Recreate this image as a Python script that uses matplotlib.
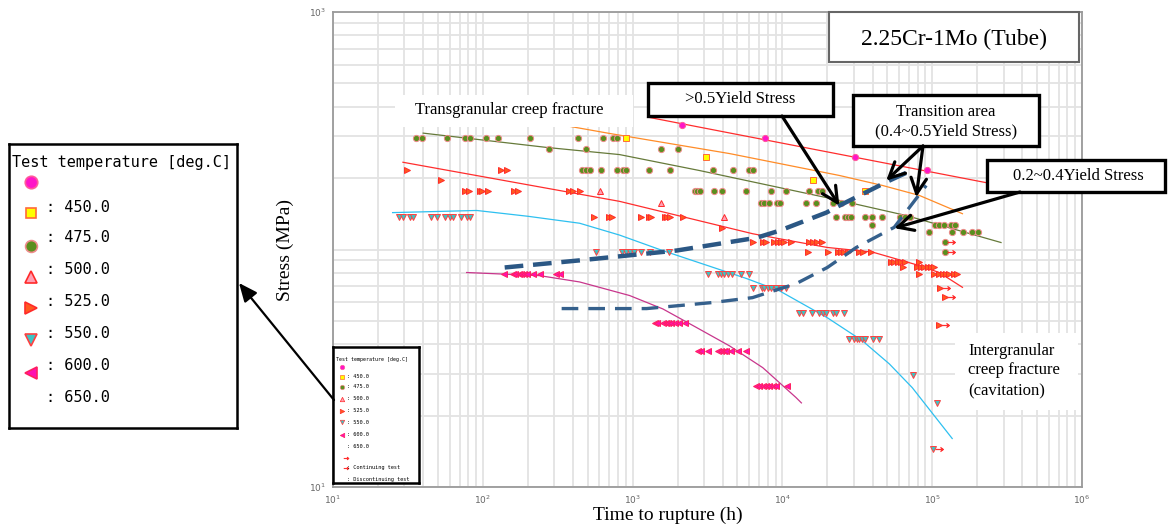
import matplotlib
matplotlib.use("Agg")
import matplotlib.pyplot as plt
from matplotlib.patches import Rectangle, ConnectionPatch
from matplotlib.path import Path

# ---------------- data (time to rupture [h], stress [MPa]) ----------------
t_c1 = [2140, 7600, 30500, 92700]
s_c1 = [333, 294, 245, 216]

t_450 = [898, 3100, 16100, 35600]
s_450 = [294, 245, 196, 177]

t_475 = [35.7, 39.2, 57.5, 75.9, 81.9, 105, 126, 206, 430, 631, 736, 782,
         277, 486, 1538, 2004,
         462, 491, 516, 618, 788, 861, 908, 1284, 1765, 3467, 4667, 5957, 6339,
         2590, 2685, 2798, 3520, 3963, 5728, 8405, 10590, 15140, 17190, 18280,
         7211, 7586, 8190, 9162, 9700, 14390, 16790, 21880, 24730, 29290,
         22800, 26300, 27230, 28710, 35730, 39630, 46210, 61220, 66070, 70790,
         39630, 104700, 111400, 120200, 133300, 141600,
         95500, 136500, 161000, 185700, 202700,
         122200, 122200]
s_475 = [294, 294, 294, 294, 294, 294, 294, 294, 294, 294, 294, 294,
         265, 265, 265, 265,
         216, 216, 216, 216, 216, 216, 216, 216, 216, 216, 216, 216, 216,
         177, 177, 177, 177, 177, 177, 177, 177, 177, 177, 177,
         157, 157, 157, 157, 157, 157, 157, 157, 157, 157,
         137, 137, 137, 137, 137, 137, 137, 137, 137, 137,
         127, 127, 127, 127, 127, 127,
         118, 118, 118, 118, 118,
         108, 98]
t_475_cont = [122200, 122200]
s_475_cont = [108, 98]

t_500 = [603, 1538, 4064]
s_500 = [177, 157, 137]

t_525 = [31.0, 133, 144,
         52.2,
         75.9, 81.1, 95.5, 99.5, 108, 161, 172, 376, 400, 443,
         550, 692, 733, 1143, 1284, 1333, 1634, 1693, 1765, 2163,
         3963,
         6339, 7396, 7786, 8851, 9311, 9795, 10310, 11430, 14960, 15920, 16930, 18400,
         14750, 20050, 23370, 24620, 25880, 27230, 32600, 34280, 39000,
         53090, 55850, 58750, 61800, 66070, 81900,
         63390, 79430, 84100, 88510, 93110, 97950, 103100,
         81900, 103100, 111400, 117200, 123300, 129700, 140300, 147500,
         113000, 122200, 111400]
s_525 = [216, 216, 216,
         196,
         177, 177, 177, 177, 177, 177, 177, 177, 177, 177,
         137, 137, 137, 137, 137, 137, 137, 137, 137, 137,
         123,
         108, 108, 108, 108, 108, 108, 108, 108, 108, 108, 108, 108,
         98, 98, 98, 98, 98, 98, 98, 98, 98,
         89, 89, 89, 89, 89, 89,
         84, 84, 84, 84, 84, 84, 84,
         78.5, 78.5, 78.5, 78.5, 78.5, 78.5, 78.5, 78.5,
         69, 63, 48]
t_525_cont = [113000, 122200, 111400]
s_525_cont = [69, 63, 48]

t_550 = [27.7, 29.2, 32.6, 34.3, 44.8, 49.1, 55.8, 60.3, 63.4, 71.0, 77.9, 81.9,
         566, 853, 908, 966, 1016, 1143, 1298, 1746,
         3177, 3706, 3899, 4102, 4315, 4621, 5309, 6026,
         6339, 7328, 7586, 7980, 8405, 9078, 9795, 10590,
         12980, 13650, 15670, 17650, 18570, 19550, 21630, 22800, 25880,
         27670, 30200, 31260, 32600, 33970, 35730, 39990, 43850,
         74650, 107400, 100500]
s_550 = [137, 137, 137, 137, 137, 137, 137, 137, 137, 137, 137, 137,
         98, 98, 98, 98, 98, 98, 98, 98,
         78.5, 78.5, 78.5, 78.5, 78.5, 78.5, 78.5, 78.5,
         69, 69, 69, 69, 69, 69, 69, 69,
         54, 54, 54, 54, 54, 54, 54, 54, 54,
         42, 42, 42, 42, 42, 42, 42, 42,
         29.5, 22.5, 14.5]
t_550_cont = [100500]
s_550_cont = [14.5]

t_600 = [138, 158, 163, 175, 181, 188, 196, 216, 240, 310, 326,
         1403, 1452, 1592, 1660, 1718, 1811, 1905, 2036, 2222,
         2723, 2871, 3177, 3706, 3899, 4046, 4217, 4550, 5035, 5728,
         6683, 7031, 7396, 7786, 8190, 8610, 9078, 10680]
s_600 = [78.5, 78.5, 78.5, 78.5, 78.5, 78.5, 78.5, 78.5, 78.5, 78.5, 78.5,
         49, 49, 49, 49, 49, 49, 49, 49, 49,
         37.5, 37.5, 37.5, 37.5, 37.5, 37.5, 37.5, 37.5, 37.5, 37.5,
         26.5, 26.5, 26.5, 26.5, 26.5, 26.5, 26.5, 26.5]

# master curves
lt_c1 = [1259, 300000]
ls_c1 = [361, 185]
lt_450 = [380, 703, 4431, 23990, 46650, 81900, 159200]
ls_450 = [330, 308, 253.5, 205, 186, 169, 141.5]
lt_475 = [40, 267, 818, 2800, 24000, 67100, 288000]
ls_475 = [309, 269, 251, 215, 161, 139, 107]
lt_525 = [29.3, 818, 6339, 9550, 19950, 39990, 81900, 111400, 159200]
ls_525 = [233, 159.5, 116.5, 111, 102, 97.5, 85.6, 80, 69.3]
lt_550 = [25, 91, 200, 443, 818, 1585, 5750, 9550, 19950, 34150, 51700, 73600, 136000]
ls_550 = [143, 146, 138, 129, 115, 99, 75.5, 67, 51.6, 41.3, 33.0, 26.2, 16]
lt_600 = [78, 240, 443, 955, 1592, 2661, 4431, 7396, 12330, 13390]
ls_600 = [80, 77.6, 73, 64, 56.2, 47, 39.3, 31.8, 23.8, 22.6]

# region boundaries (dashed)
dt_hi = [140, 443, 1965, 6710, 9550, 19650, 24000, 51700, 72400]
ds_hi = [84, 90, 99, 112, 120, 143, 153, 195, 215]
dt_lo = [336, 1240, 3415, 6310, 12400, 19950, 31150, 55800, 91200]
ds_lo = [56.4, 56.4, 59.8, 62.7, 71.9, 84, 102, 124, 186]

legend_labels = ["", "450.0", "475.0", "500.0", "525.0", "550.0", "600.0", "650.0"]
x_tick_labels = ["$10^{1}$", "$10^{2}$", "$10^{3}$", "$10^{4}$", "$10^{5}$", "$10^{6}$"]
y_tick_labels = ["$10^{1}$", "", "$10^{3}$"]

# ---------------- styles ----------------
st_c1 = dict(marker="o", mfc="#FF14C8", mec="#FF5A9A")
st_450 = dict(marker="s", mfc="#FFFF00", mec="#FF6A3A")
st_475 = dict(marker="o", mfc="#5A8F1E", mec="#EE8A8A")
st_500 = dict(marker="^", mfc="#FFA0B4", mec="#FF2A2A")
st_525 = dict(marker=">", mfc="#FF5A1F", mec="#FF2A2A")
st_550 = dict(marker="v", mfc="#3CC4C4", mec="#FF4040")
st_600 = dict(marker="<", mfc="#FF10B0", mec="#FF2060")
legend_styles = [st_c1, st_450, st_475, st_500, st_525, st_550, st_600, None]

arrow_marker = Path([(0.2, 0), (1, 0), (0.72, 0.22), (1, 0), (0.72, -0.22)],
                    [Path.MOVETO, Path.LINETO, Path.MOVETO, Path.LINETO, Path.LINETO])

SERIF = "Liberation Serif"
MONO = "DejaVu Sans Mono"

W, H = 1169, 526
fig = plt.figure(figsize=(W / 100, H / 100), dpi=100)
fig.patch.set_facecolor("white")


def fx(px):
    return px / W


def fy(py):
    return 1 - py / H


ax = fig.add_axes([fx(333), fy(487), (1082 - 333) / W, (487 - 12) / H])
ax.set_xscale("log")
ax.set_yscale("log")
ax.set_xlim(10, 1e6)
ax.set_ylim(10, 1000)
ax.grid(True, which="both", color="#e3e3e3", lw=1.3)
ax.set_axisbelow(True)
ax.set_xticks([10, 1e2, 1e3, 1e4, 1e5, 1e6])
ax.set_xticklabels(x_tick_labels)
ax.set_yticks([10, 100, 1000])
ax.set_yticklabels(y_tick_labels)
ax.tick_params(which="both", length=0, labelsize=6.5, labelcolor="#666666", pad=5)
ax.tick_params(axis="x", which="minor", labelbottom=False)
ax.tick_params(axis="y", which="minor", labelleft=False)
for sp in ax.spines.values():
    sp.set_color("#9a9a9a")
    sp.set_linewidth(1.3)

# master curves
ax.plot(lt_c1, ls_c1, color="#FF2D2D", lw=0.9, zorder=3)
ax.plot(lt_450, ls_450, color="#FF8C28", lw=0.9, zorder=3)
ax.plot(lt_475, ls_475, color="#667A3A", lw=0.9, zorder=3)
ax.plot(lt_525, ls_525, color="#FF2D2D", lw=0.9, zorder=3)
ax.plot(lt_550, ls_550, color="#2EC0F0", lw=0.9, zorder=3)
ax.plot(lt_600, ls_600, color="#C8368C", lw=0.9, zorder=3)

# data
ms_pt = 4.5
for t, s, st in [(t_c1, s_c1, st_c1), (t_450, s_450, st_450), (t_475, s_475, st_475),
                 (t_500, s_500, st_500), (t_525, s_525, st_525), (t_550, s_550, st_550),
                 (t_600, s_600, st_600)]:
    ax.plot(t, s, ls="none", ms=ms_pt, mew=0.7, zorder=4, **st)
for t, s in [(t_475_cont, s_475_cont), (t_525_cont, s_525_cont), (t_550_cont, s_550_cont)]:
    ax.plot(t, s, ls="none", marker=arrow_marker, ms=14, mfc="none", mec="#FF3030",
            mew=0.9, zorder=4)

# dashed boundaries
ax.plot(dt_hi, ds_hi, color="#2B5784", lw=3.2, ls=(0, (4.2, 2.2)), zorder=5,
        dash_capstyle="butt")
ax.plot(dt_lo, ds_lo, color="#35608C", lw=2.4, ls=(0, (5, 3)), zorder=5,
        dash_capstyle="butt")


# ---------------- annotation boxes ----------------
def box(x0, y0, x1, y1, ec="black", lw=2.4, fc="white"):
    fig.add_artist(Rectangle((fx(x0), fy(y1)), (x1 - x0) / W, (y1 - y0) / H,
                             transform=fig.transFigure, fc=fc, ec=ec, lw=lw, zorder=5))


def ftext(x, y, s, size=12, ha="center", family=SERIF, **kw):
    fig.text(fx(x), fy(y), s, ha=ha, va="center", fontsize=size, family=family,
             zorder=6, **kw)


box(395, 95, 633, 127, ec="none", lw=0)
ftext(415, 110, "Transgranular creep fracture", ha="left")

box(829, 12, 1079, 62, ec="#666666", lw=1.5)
ftext(954, 39, "2.25Cr-1Mo (Tube)", size=17)

box(648, 83, 833, 116)
ftext(740, 99, ">0.5Yield Stress")

box(853, 95, 1039, 146)
ftext(946, 112, "Transition area")
ftext(946, 131, "(0.4~0.5Yield Stress)")

box(987, 160, 1165, 192)
ftext(1078, 176, "0.2~0.4Yield Stress")

box(955, 333, 1078, 410, ec="none", lw=0)
ftext(968, 351, "Intergranular", ha="left")
ftext(968, 370, "creep fracture", ha="left")
ftext(968, 391, "(cavitation)", ha="left")


def arrow(xa, ya, tb, sb):
    cp = ConnectionPatch(xyA=(fx(xa), fy(ya)), coordsA="figure fraction",
                         xyB=(tb, sb), coordsB="data", axesB=ax,
                         arrowstyle="->,head_length=0.7,head_width=0.35",
                         lw=2.3, color="black", mutation_scale=16, zorder=7)
    fig.add_artist(cp)


arrow(782, 116, 24000, 153)
arrow(923, 146, 49300, 195)
arrow(923, 146, 78200, 166)
arrow(1020, 192, 55800, 123)

# ---------------- small legend inside the plot ----------------
sm = fig.add_axes([fx(333), fy(483), (419 - 333) / W, (483 - 347) / H])
sm.set_xlim(0, 86)
sm.set_ylim(136, 0)
sm.set_xticks([])
sm.set_yticks([])
for sp in sm.spines.values():
    sp.set_color("black")
    sp.set_linewidth(1.8)
sm.text(3, 12, "Test temperature [deg.C]", fontsize=3.6, family=MONO, va="center")
sm_rows = [20, 30, 40, 52, 64, 75, 88, 99]
for yy, lab, st in zip(sm_rows, legend_labels, legend_styles):
    if st is not None:
        sm.plot(8.7, yy, ls="none", ms=3.2, mew=0.5, **st)
    if lab:
        sm.text(14, yy, ": " + lab, fontsize=3.8, family=MONO, va="center")
sm.plot(8.7, 111, ls="none", marker=arrow_marker, ms=9, mec="#FF3030", mew=0.8)
sm.plot(8.7, 121, ls="none", marker=arrow_marker, ms=9, mec="#FF3030", mew=0.8)
sm.text(14, 121, ": Continuing test", fontsize=3.8, family=MONO, va="center")
sm.text(14, 132, ": Discontinuing test", fontsize=3.8, family=MONO, va="center",
        clip_on=True)

# ---------------- big legend on the left ----------------
lg = fig.add_axes([fx(9), fy(428), (237 - 9) / W, (428 - 144) / H])
lg.set_xlim(0, 228)
lg.set_ylim(284, 0)
lg.set_xticks([])
lg.set_yticks([])
for sp in lg.spines.values():
    sp.set_color("black")
    sp.set_linewidth(1.8)
lg.text(3, 19, "Test temperature [deg.C]", fontsize=11, family=MONO, va="center")
lg_marker_rows = [38, 69, 102, 133, 164, 196, 229, 258]
lg_text_rows = [38, 64, 94, 125, 158, 189, 222, 254]
lg_ms = [9, 7.5, 8.5, 9, 9, 9, 9, 9]
for ym, yt, lab, st, msz in zip(lg_marker_rows, lg_text_rows, legend_labels,
                                legend_styles, lg_ms):
    if st is not None:
        lg.plot(21.7, ym, ls="none", ms=msz, mew=1.2, **st)
    if lab:
        lg.text(37, yt, ": " + lab, fontsize=11, family=MONO, va="center")

# arrow from small legend to big legend
fig.add_artist(ConnectionPatch(xyA=(fx(334), fy(400)), coordsA="figure fraction",
                               xyB=(fx(239), fy(283)), coordsB="figure fraction",
                               arrowstyle="-|>,head_length=0.8,head_width=0.35",
                               lw=1.6, color="black", mutation_scale=14, zorder=8))

# axis labels
ftext(285, 250, "Stress (MPa)", size=14, rotation=90)
ftext(668, 515, "Time to rupture (h)", size=14)

fig.savefig("out.png", dpi=100)
